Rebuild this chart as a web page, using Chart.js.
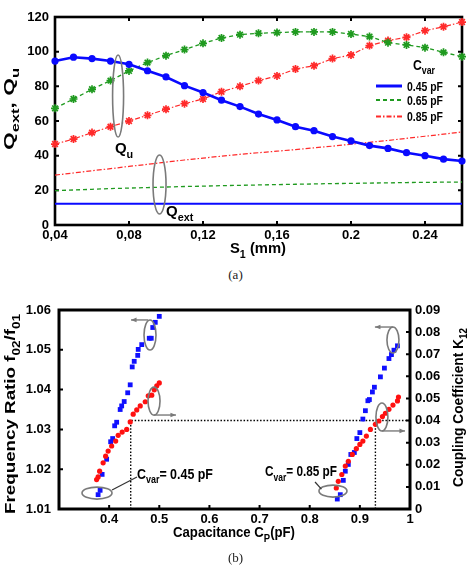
<!DOCTYPE html>
<html><head><meta charset="utf-8">
<script src="https://cdn.jsdelivr.net/npm/chart.js@4.4.1/dist/chart.umd.min.js"></script>
<style>
html,body{margin:0;padding:0;background:#fff;width:471px;height:565px;overflow:hidden}
#wa{position:absolute;left:0;top:0;width:471px;height:265px}
#wb{position:absolute;left:0;top:280px;width:471px;height:285px}
.cap{position:absolute;left:0;width:471px;text-align:center;font-family:"Liberation Serif","Times New Roman",serif;font-size:13px;color:#222;line-height:15px}
</style></head><body>
<div id="wa"><canvas id="ca" width="471" height="265"></canvas></div>
<div class="cap" style="top:267px">(a)</div>
<div id="wb"><canvas id="cb" width="471" height="285"></canvas></div>
<div class="cap" style="top:550px">(b)</div>
<script>
// ---------- (a) data ----------
const s1 = [0.04,0.05,0.06,0.07,0.08,0.09,0.10,0.11,0.12,0.13,0.14,0.15,0.16,0.17,0.18,0.19,0.20,0.21,0.22,0.23,0.24,0.25,0.26];
const quCvar045 = [94.6,96.8,96.0,94.6,92.7,89.0,85.4,80.4,76.4,72.0,68.3,64.0,60.6,56.7,54.4,51.0,48.5,45.8,44.2,41.7,40.0,38.0,36.9];
const quCvar065 = [67.3,72.7,78.3,83.3,88.9,93.7,97.7,101.2,104.8,107.9,109.8,110.6,111.0,111.4,111.4,111.4,110.2,108.7,105.2,103.9,102.3,99.6,97.1];
const quCvar085 = [46.7,49.6,53.3,56.7,60.0,63.3,66.8,70.0,72.7,76.9,80.0,83.3,86.0,90.0,91.9,96.0,98.1,103.5,106.4,108.3,112.1,114.4,117.1];
const qextCvar045 = [12.2,12.2,12.2,12.2,12.2,12.2,12.2,12.2,12.2,12.2,12.2,12.2,12.2,12.2,12.2,12.2,12.2,12.2,12.2,12.2,12.2,12.2,12.2];
const qextCvar065 = [19.8,20.2,20.6,21.0,21.3,21.6,21.9,22.2,22.4,22.7,22.9,23.1,23.3,23.5,23.7,23.9,24.0,24.2,24.3,24.5,24.6,24.7,24.8];
const qextCvar085 = [28.8,30.0,31.3,32.5,33.8,35.0,36.3,37.5,38.6,39.7,40.8,41.7,42.6,43.5,44.5,45.5,46.6,47.7,48.8,50.0,51.2,52.4,53.7];
const xTicksA = [0.04,0.08,0.12,0.16,0.20,0.24];
const xTickLabelsA = ['0,04','0,08','0,12','0,16','0.2','0.24'];
const yTicksA = [0,20,40,60,80,100,120];
const legendLabelsA = ['0.45 pF','0.65 pF','0.85 pF'];

// ---------- (b) data ----------
const capBlue045 = [0.378,0.382,0.386,0.395,0.403,0.407,0.411,0.415,0.422,0.425,0.430,0.437,0.442,0.446,0.450,0.457,0.458,0.465,0.480,0.484,0.487,0.492,0.500];
const ratioBlue045 = [1.0136,1.0147,1.0187,1.0225,1.0269,1.0277,1.0309,1.0318,1.0350,1.0359,1.0370,1.0392,1.0412,1.0457,1.0471,1.0486,1.0501,1.0513,1.0529,1.0529,1.0556,1.0569,1.0584];
const capBlue085 = [0.855,0.861,0.867,0.871,0.877,0.882,0.889,0.894,0.900,0.906,0.911,0.916,0.919,0.925,0.929,0.941,0.949,0.958,0.963,0.968,0.975];
const ratioBlue085 = [1.0125,1.0136,1.0172,1.0195,1.0212,1.0237,1.0242,1.0277,1.0292,1.0326,1.0347,1.0372,1.0375,1.0394,1.0406,1.0432,1.0454,1.0478,1.0488,1.0499,1.0510];
const capRed045 = [0.375,0.378,0.381,0.388,0.393,0.398,0.405,0.413,0.418,0.426,0.435,0.442,0.448,0.455,0.462,0.472,0.478,0.485,0.490,0.495,0.500];
const kRed045 = [0.0133,0.0145,0.0171,0.0209,0.0239,0.0262,0.0285,0.0307,0.0333,0.0348,0.0360,0.0394,0.0429,0.0448,0.0466,0.0485,0.0512,0.0515,0.0539,0.0557,0.0570];
const capRed085 = [0.853,0.857,0.864,0.871,0.877,0.885,0.893,0.900,0.906,0.913,0.921,0.931,0.938,0.945,0.951,0.958,0.966,0.975,0.977];
const kRed085 = [0.0095,0.0125,0.0156,0.0194,0.0216,0.0247,0.0273,0.0292,0.0307,0.0330,0.0360,0.0383,0.0398,0.0418,0.0433,0.0451,0.0470,0.0489,0.0506];
const guideCap045 = [0.443,0.443,1.0];
const guideK045 = [0,0.04,0.04];
const guideCap085 = [0.931,0.931];
const guideK085 = [0,0.04];
const capTicksB = [0.4,0.5,0.6,0.7,0.8,0.9,1.0];
const capTickLabelsB = ['0.4','0.5','0.6','0.7','0.8','0.9','1'];
const ratioTicksB = [1.01,1.02,1.03,1.04,1.05,1.06];
const ratioTickLabelsB = ['1.01','1.02','1.03','1.04','1.05','1.06'];
const kTicksB = [0,0.01,0.02,0.03,0.04,0.05,0.06,0.07,0.08,0.09];
const kTickLabelsB = ['0','0.01','0.02','0.03','0.04','0.05','0.06','0.07','0.08','0.09'];

// ---------- styles ----------
const BLUE = '#0a0aff', GREEN = '#1f9a1f', RED = '#ff2a2a', GRAY = '#7a7a7a';
const FONT = '"Liberation Sans", Arial, Helvetica, sans-serif';
const tickFont = {family: FONT, size: 13, weight: 'bold'};

function pts(xs, ys){ return xs.map((x,i)=>({x:x, y:ys[i]})); }

function richWidth(ctx, parts, size){
  let w = 0;
  for (const p of parts){ ctx.font = 'bold ' + (p.sub ? size*0.72 : size) + 'px ' + FONT; w += ctx.measureText(p.t).width; }
  return w;
}
function drawRich(ctx, parts, o){
  const size = o.size, nat = richWidth(ctx, parts, size);
  const sx = o.width ? o.width/nat : 1;
  ctx.save();
  ctx.translate(o.x, o.y);
  if (o.angle) ctx.rotate(o.angle);
  ctx.scale(sx, 1);
  let x = o.align === 'center' ? -nat/2 : 0;
  ctx.fillStyle = o.color || '#000';
  ctx.textBaseline = 'alphabetic'; ctx.textAlign = 'left';
  for (const p of parts){
    ctx.font = 'bold ' + (p.sub ? size*0.72 : size) + 'px ' + FONT;
    ctx.fillText(p.t, x, p.sub ? size*0.32 : 0);
    x += ctx.measureText(p.t).width;
  }
  ctx.restore();
}
function ellipse(ctx, cx, cy, rx, ry){
  ctx.save(); ctx.strokeStyle = GRAY; ctx.lineWidth = 1.6;
  ctx.beginPath(); ctx.ellipse(cx, cy, rx, ry, 0, 0, Math.PI*2); ctx.stroke(); ctx.restore();
}
function arrow(ctx, x1, y1, x2, y2){
  const a = Math.atan2(y2-y1, x2-x1), h = 6;
  ctx.save(); ctx.strokeStyle = GRAY; ctx.fillStyle = GRAY; ctx.lineWidth = 1.4;
  ctx.beginPath(); ctx.moveTo(x1,y1); ctx.lineTo(x2,y2); ctx.stroke();
  ctx.beginPath(); ctx.moveTo(x2,y2);
  ctx.lineTo(x2 - h*Math.cos(a-0.4), y2 - h*Math.sin(a-0.4));
  ctx.lineTo(x2 - h*Math.cos(a+0.4), y2 - h*Math.sin(a+0.4));
  ctx.closePath(); ctx.fill(); ctx.restore();
}
function line(ctx, x1, y1, x2, y2){
  ctx.save(); ctx.strokeStyle = '#333'; ctx.lineWidth = 1.2;
  ctx.beginPath(); ctx.moveTo(x1,y1); ctx.lineTo(x2,y2); ctx.stroke(); ctx.restore();
}
function framePlugin(o){
  return {
    id: 'frame',
    beforeDatasetsDraw(chart){
      const {ctx, chartArea: a, scales} = chart;
      ctx.save();
      ctx.strokeStyle = '#000'; ctx.lineWidth = o.lw;
      ctx.strokeRect(a.left, a.top, a.right - a.left, a.bottom - a.top);
      ctx.lineWidth = o.tw; ctx.beginPath();
      const tl = o.tl;
      for (const t of scales.x.ticks){
        const px = scales.x.getPixelForValue(t.value);
        if (px <= a.left + 2 || px >= a.right - 2) continue;
        ctx.moveTo(px, a.bottom); ctx.lineTo(px, a.bottom - tl);
        if (o.top){ ctx.moveTo(px, a.top); ctx.lineTo(px, a.top + tl); }
      }
      for (const t of scales.y.ticks){
        const py = scales.y.getPixelForValue(t.value);
        if (py <= a.top + 2 || py >= a.bottom - 2) continue;
        ctx.moveTo(a.left, py); ctx.lineTo(a.left + tl, py);
        if (!scales.y1){ ctx.moveTo(a.right, py); ctx.lineTo(a.right - tl, py); }
      }
      if (scales.y1){
        for (const t of scales.y1.ticks){
          const py = scales.y1.getPixelForValue(t.value);
          if (py <= a.top + 2 || py >= a.bottom - 2) continue;
          ctx.moveTo(a.right, py); ctx.lineTo(a.right - tl, py);
        }
      }
      ctx.stroke(); ctx.restore();
    }
  };
}

// ---------- Chart (a) ----------
const annotA = {
  id: 'annotA',
  afterDatasetsDraw(chart){
    const {ctx, scales: {x, y}} = chart;
    // Qu ellipse and label
    ellipse(ctx, x.getPixelForValue(0.0741), y.getPixelForValue(74.4), 5.5, 41);
    drawRich(ctx, [{t:'Q'},{t:'u',sub:true}], {x: x.getPixelForValue(0.0724), y: y.getPixelForValue(41.5), size: 15});
    // Qext ellipse and label
    ellipse(ctx, x.getPixelForValue(0.0965), y.getPixelForValue(23.4), 6.5, 29.5);
    drawRich(ctx, [{t:'Q'},{t:'ext',sub:true}], {x: x.getPixelForValue(0.1), y: y.getPixelForValue(5.2), size: 15});
    // Legend
    drawRich(ctx, [{t:'C'},{t:'var',sub:true}], {x: 413, y: 70, size: 14, width: 22});
    const ds = chart.data.datasets;
    const ly = [86, 100, 116.5];
    for (let i = 0; i < 3; i++){
      const d = ds[i+3];
      ctx.save(); ctx.strokeStyle = d.borderColor; ctx.lineWidth = i === 0 ? 3 : 2;
      ctx.setLineDash(d.borderDash || []);
      ctx.beginPath(); ctx.moveTo(376, ly[i]); ctx.lineTo(402, ly[i]); ctx.stroke(); ctx.restore();
      drawRich(ctx, [{t: legendLabelsA[i]}], {x: 407, y: ly[i] + 4.5, size: 13, width: 36});
    }
    // Axis titles
    drawRich(ctx, [{t:'Q'},{t:'ext',sub:true},{t:', Q'},{t:'u',sub:true}], {x: 14, y: 150, angle: -Math.PI/2, size: 15, width: 82});
    drawRich(ctx, [{t:'S'},{t:'1',sub:true},{t:' (mm)'}], {x: 258, y: 253, align: 'center', size: 15, width: 56});
  }
};

new Chart(document.getElementById('ca'), {
  type: 'line',
  data: { datasets: [
    {label:'Qu 0.45 pF', data: pts(s1, quCvar045), borderColor: BLUE, backgroundColor: BLUE, borderWidth: 2.6,
      pointStyle: 'circle', pointRadius: 3.6, pointBorderWidth: 0, pointBackgroundColor: BLUE},
    {label:'Qu 0.65 pF', data: pts(s1, quCvar065), borderColor: GREEN, borderWidth: 1.3, borderDash: [4,3],
      pointStyle: 'star', pointRadius: 4, pointBorderWidth: 1.7, pointBorderColor: GREEN, pointBackgroundColor: GREEN},
    {label:'Qu 0.85 pF', data: pts(s1, quCvar085), borderColor: RED, borderWidth: 1.2, borderDash: [5,2,1.5,2],
      pointStyle: 'star', pointRadius: 4, pointBorderWidth: 1.7, pointBorderColor: RED, pointBackgroundColor: RED},
    {label:'Qext 0.45 pF', data: pts(s1, qextCvar045), borderColor: BLUE, borderWidth: 2, pointRadius: 0},
    {label:'Qext 0.65 pF', data: pts(s1, qextCvar065), borderColor: GREEN, borderWidth: 1.3, borderDash: [4,3], pointRadius: 0},
    {label:'Qext 0.85 pF', data: pts(s1, qextCvar085), borderColor: RED, borderWidth: 1.2, borderDash: [5,2,1.5,2], pointRadius: 0}
  ]},
  options: {
    responsive: false, animation: false, devicePixelRatio: 1,
    datasets: { line: { clip: false, tension: 0 } },
    layout: { padding: { top: 17, right: 9, left: 0, bottom: 0 } },
    plugins: { legend: { display: false }, tooltip: { enabled: false } },
    scales: {
      x: { type: 'linear', min: 0.04, max: 0.26,
        afterFit: s => { s.height = 40; },
        afterBuildTicks: s => { s.ticks = xTicksA.map(v => ({value: v})); },
        ticks: { callback: (v, i) => xTickLabelsA[i], padding: 3, font: tickFont, color: '#000', autoSkip: false, maxRotation: 0 },
        grid: { display: false, drawTicks: false }, border: { display: false } },
      y: { min: 0, max: 120,
        afterFit: s => { s.width = 55; },
        afterBuildTicks: s => { s.ticks = yTicksA.map(v => ({value: v})); },
        ticks: { callback: (v, i) => String(yTicksA[i]), padding: 6, font: tickFont, color: '#000' },
        grid: { display: false, drawTicks: false }, border: { display: false } }
    }
  },
  plugins: [framePlugin({lw: 2.6, tw: 2, tl: 4, top: true}), annotA]
});

// ---------- Chart (b) ----------
const annotB = {
  id: 'annotB',
  afterDatasetsDraw(chart){
    const {ctx, scales: {x, y1}} = chart;
    const X = v => x.getPixelForValue(v), Y = v => y1.getPixelForValue(v);
    ellipse(ctx, X(0.4815), Y(0.0787), 6, 15);
    arrow(ctx, X(0.4775), Y(0.0855), X(0.4436), Y(0.0855));
    ellipse(ctx, X(0.4895), Y(0.0488), 6, 14);
    arrow(ctx, X(0.4895), Y(0.0425), X(0.5333), Y(0.0425));
    ellipse(ctx, X(0.966), Y(0.0764), 6, 13);
    arrow(ctx, X(0.966), Y(0.0823), X(0.930), Y(0.0823));
    ellipse(ctx, X(0.944), Y(0.0416), 6, 14);
    arrow(ctx, X(0.944), Y(0.0353), X(0.990), Y(0.0353));
    ellipse(ctx, X(0.3758), Y(0.0072), 15, 6);
    line(ctx, X(0.4057), Y(0.0086), X(0.4555), Y(0.0145));
    drawRich(ctx, [{t:'C'},{t:'var',sub:true},{t:'= 0.45 pF'}], {x: X(0.4555), y: Y(0.0136), size: 14, width: 76});
    ellipse(ctx, X(0.8464), Y(0.0081), 14, 6);
    line(ctx, X(0.8234), Y(0.0090), X(0.8106), Y(0.0122));
    drawRich(ctx, [{t:'C'},{t:'var',sub:true},{t:'= 0.85 pF'}], {x: X(0.7108), y: Y(0.0149), size: 14, width: 72});
    // axis titles
    drawRich(ctx, [{t:'Frequency Ratio f'},{t:'02',sub:true},{t:'/f'},{t:'01',sub:true}], {x: 15, y: 234, angle: -Math.PI/2, size: 15, width: 200});
    drawRich(ctx, [{t:'Coupling Coefficient K'},{t:'12',sub:true}], {x: 463, y: 207, angle: -Math.PI/2, size: 14, width: 159});
    drawRich(ctx, [{t:'Capacitance C'},{t:'P',sub:true},{t:'(pF)'}], {x: 234, y: 257, align: 'center', size: 15, width: 122});
  }
};

new Chart(document.getElementById('cb'), {
  type: 'scatter',
  data: { datasets: [
    {label:'K12 0.45', data: pts(capRed045, kRed045), yAxisID: 'y1', pointStyle: 'circle', pointRadius: 2.6, pointBorderWidth: 0, backgroundColor: '#ff1010', order: 1},
    {label:'K12 0.85', data: pts(capRed085, kRed085), yAxisID: 'y1', pointStyle: 'circle', pointRadius: 2.6, pointBorderWidth: 0, backgroundColor: '#ff1010', order: 1},
    {label:'f ratio 0.45', data: pts(capBlue045, ratioBlue045), yAxisID: 'y', pointStyle: 'rect', pointRadius: 3.4, pointBorderWidth: 0, backgroundColor: '#1010ff', order: 2},
    {label:'f ratio 0.85', data: pts(capBlue085, ratioBlue085), yAxisID: 'y', pointStyle: 'rect', pointRadius: 3.4, pointBorderWidth: 0, backgroundColor: '#1010ff', order: 2},
    {label:'guide 0.45', type: 'line', data: pts(guideCap045, guideK045), yAxisID: 'y1', borderColor: '#000', borderWidth: 1.4, borderDash: [1.5,1.8], pointRadius: 0, order: 3},
    {label:'guide 0.85', type: 'line', data: pts(guideCap085, guideK085), yAxisID: 'y1', borderColor: '#000', borderWidth: 1.4, borderDash: [1.5,1.8], pointRadius: 0, order: 3}
  ]},
  options: {
    responsive: false, animation: false, devicePixelRatio: 1,
    datasets: { scatter: { clip: false }, line: { clip: false } },
    layout: { padding: { top: 30, right: 0, left: 0, bottom: 0 } },
    plugins: { legend: { display: false }, tooltip: { enabled: false } },
    scales: {
      x: { type: 'linear', min: 0.3, max: 1.0,
        afterFit: s => { s.height = 56; },
        afterBuildTicks: s => { s.ticks = capTicksB.map(v => ({value: v})); },
        ticks: { callback: (v, i) => capTickLabelsB[i], padding: 3, font: tickFont, color: '#000', autoSkip: false, maxRotation: 0 },
        grid: { display: false, drawTicks: false }, border: { display: false } },
      y: { position: 'left', min: 1.01, max: 1.06,
        afterFit: s => { s.width = 59; },
        afterBuildTicks: s => { s.ticks = ratioTicksB.map(v => ({value: v})); },
        ticks: { callback: (v, i) => ratioTickLabelsB[i], padding: 8, font: tickFont, color: '#000' },
        grid: { display: false, drawTicks: false }, border: { display: false } },
      y1: { position: 'right', min: 0, max: 0.09,
        afterFit: s => { s.width = 61; },
        afterBuildTicks: s => { s.ticks = kTicksB.map(v => ({value: v})); },
        ticks: { callback: (v, i) => kTickLabelsB[i], padding: 5, font: tickFont, color: '#000' },
        grid: { display: false, drawTicks: false }, border: { display: false } }
    }
  },
  plugins: [framePlugin({lw: 3, tw: 2, tl: 4, top: false}), annotB]
});
</script>
</body></html>
